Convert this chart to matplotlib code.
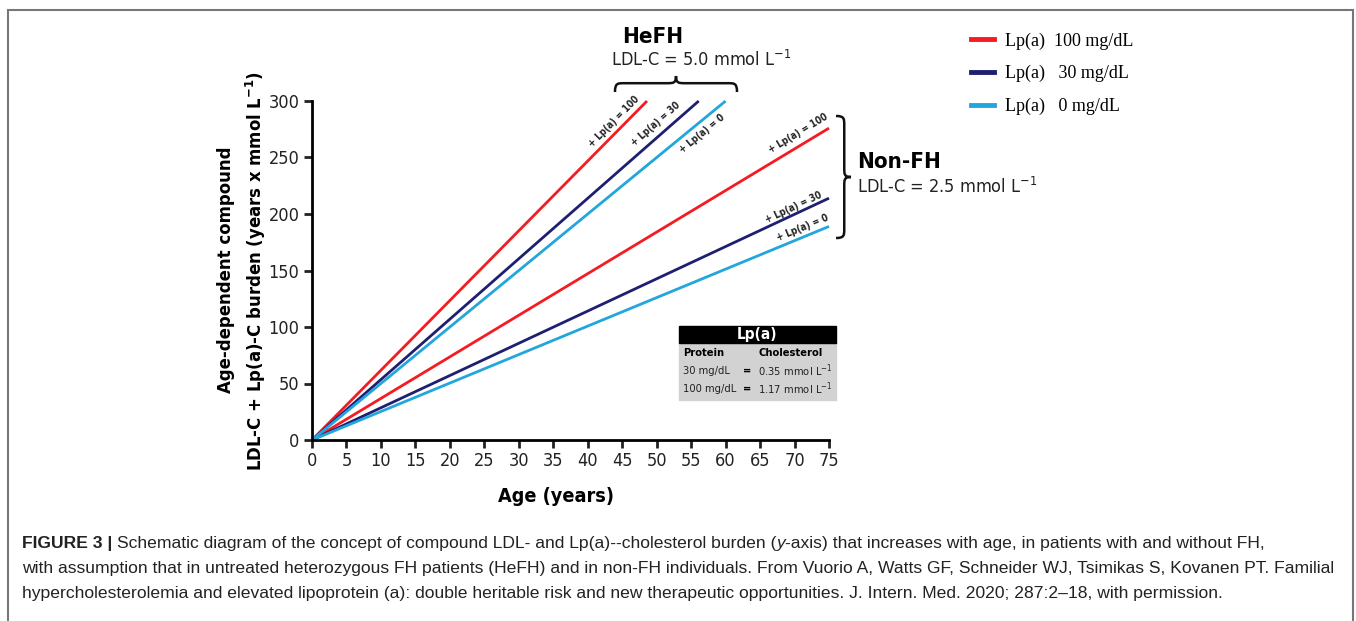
import numpy as np
import matplotlib
matplotlib.use("Agg")
import matplotlib.pyplot as plt
from matplotlib import font_manager as fm
from matplotlib.path import Path
from matplotlib.patches import PathPatch, Rectangle
from matplotlib.lines import Line2D

W, H = 1356, 621

# pick a narrow sans face if one is installed
narrow = [f for f in fm.fontManager.ttflist
          if f.stretch in ('condensed', 'semi-condensed', 'extra-condensed')
          or 'Narrow' in f.name or 'Condensed' in f.name]
if narrow:
    FAM, STR = narrow[0].name, narrow[0].stretch
else:
    FAM, STR = 'Roboto', 'normal'
STR = STR if isinstance(STR, str) else 'normal'

plt.rcParams['font.family'] = [FAM, 'DejaVu Sans']
plt.rcParams['font.stretch'] = STR
plt.rcParams['mathtext.fontset'] = 'custom'
plt.rcParams['mathtext.rm'] = FAM
plt.rcParams['mathtext.bf'] = FAM + ':bold'

# data: each line runs from the origin to its end point
lpa_levels = ['100', '30', '0']
legend_labels = ['Lp(a)  100 mg/dL', 'Lp(a)   30 mg/dL', 'Lp(a)   0 mg/dL']
colors = ['#f41c22', '#1f1f72', '#22a6dc']
hefh_end_age = [48.6, 56.1, 60.0]
hefh_end_val = [300, 300, 300]
nonfh_end_age = [75, 75, 75]
nonfh_end_val = [276, 214, 189]
x_ticks = list(range(0, 80, 5))
y_ticks = list(range(0, 350, 50))

# label centres for the "+ Lp(a) = ..." tags (data coords)
hefh_tag_xy = [(43.8, 282), (49.9, 279.6), (56.6, 270.8)]
nonfh_tag_xy = [(70.5, 271.7), (69.9, 206), (71.1, 187.6)]


def px(x, y):
    return x / W, 1 - y / H


fig = plt.figure(figsize=(W / 100, H / 100), dpi=100)
ax = fig.add_axes([312 / W, 1 - 440 / H, (829 - 312) / W, (440 - 101) / H])

for i in range(3):
    ax.plot([0, hefh_end_age[i]], [0, hefh_end_val[i]], color=colors[i], lw=2, clip_on=False,
            solid_capstyle='butt')
    ax.plot([0, nonfh_end_age[i]], [0, nonfh_end_val[i]], color=colors[i], lw=2, clip_on=False,
            solid_capstyle='butt')

for ends, tags in [((hefh_end_age, hefh_end_val), hefh_tag_xy), ((nonfh_end_age, nonfh_end_val), nonfh_tag_xy)]:
    for i in range(3):
        ang = np.degrees(np.arctan2(ends[1][i], ends[0][i]))
        ax.text(tags[i][0], tags[i][1], '+ Lp(a) = ' + lpa_levels[i], fontsize=7, fontweight='bold',
                rotation=ang, transform_rotates_text=True, rotation_mode='anchor',
                ha='center', va='center', color='#222222')

ax.set_xlim(0, 75)
ax.set_ylim(0, 300)
ax.set_xticks(x_ticks)
ax.set_yticks(y_ticks)
ax.spines[['top', 'right']].set_visible(False)
for s in ['left', 'bottom']:
    ax.spines[s].set_linewidth(2)
ax.tick_params(width=2, length=6, labelsize=13, pad=3, colors='#222222')

fig.canvas.draw()
rend = fig.canvas.get_renderer()


def fit(t, target, vertical=False):
    # scale a text's size so its long side matches the given length
    bb = t.get_window_extent(rend)
    cur = bb.height if vertical else bb.width
    t.set_fontsize(t.get_fontsize() * target / cur)
    return t


yl2 = fig.text(256 / W, 1 - 271 / H, 'LDL-C + Lp(a)-C burden (years x mmol L$^{\\mathbf{-1}}$)', rotation=90,
               fontsize=16, fontweight='bold', ha='center', va='center')
fit(yl2, 400, vertical=True)
lab_size = yl2.get_fontsize()
fig.text(226 / W, 1 - 270 / H, 'Age-dependent compound', rotation=90, fontsize=lab_size,
         fontweight='bold', ha='center', va='center')
fig.text(*px(556, 496), 'Age (years)', fontsize=lab_size + 1, fontweight='bold', ha='center', va='center')


def brace(p0, p1, normal, h, r):
    p0 = np.array(p0, float)
    p1 = np.array(p1, float)
    L = np.linalg.norm(p1 - p0)
    u = (p1 - p0) / L
    n = np.array(normal, float)
    m = L / 2
    f = h * 0.55
    loc = [(0, 0), (0, f), (r * 0.3, f), (r, f), (m - r, f), (m - r * 0.3, f), (m, f), (m, h),
           (m, f), (m + r * 0.3, f), (m + r, f), (L - r, f), (L - r * 0.3, f), (L, f), (L, 0)]
    codes = [Path.MOVETO, Path.CURVE4, Path.CURVE4, Path.CURVE4, Path.LINETO,
             Path.CURVE4, Path.CURVE4, Path.CURVE4, Path.CURVE4, Path.CURVE4, Path.CURVE4,
             Path.LINETO, Path.CURVE4, Path.CURVE4, Path.CURVE4]
    pts = [px(*(p0 + a * u + b * n)) for a, b in loc]
    fig.add_artist(PathPatch(Path(pts, codes), fill=False, lw=1.8, color='#111111',
                             transform=fig.transFigure))


brace((615, 92), (737, 92), (0, -1), 16, 9)
brace((836, 116), (836, 238), (1, 0), 15, 9)

fig.text(*px(622, 37), 'HeFH', fontsize=16, fontweight='bold', va='center')
fig.text(*px(611, 60), 'LDL-C = 5.0 mmol L$^{-1}$', fontsize=13, va='center', color='#222222')
fig.text(*px(857, 162), 'Non-FH', fontsize=16, fontweight='bold', va='center')
fig.text(*px(857, 187), 'LDL-C = 2.5 mmol L$^{-1}$', fontsize=13, va='center', color='#222222')

# Lp(a) conversion box
fig.add_artist(Rectangle(px(679, 400), (836 - 679) / W, (400 - 343) / H, color='#d2d2d2',
                         transform=fig.transFigure))
fig.add_artist(Rectangle(px(679, 343), (836 - 679) / W, (343 - 326) / H, color='black',
                         transform=fig.transFigure))
fig.text(*px(757, 334.5), 'Lp(a)', color='white', fontsize=11, fontweight='bold', ha='center', va='center')
rows = [('30 mg/dL', '0.35 mmol L$^{-1}$'), ('100 mg/dL', '1.17 mmol L$^{-1}$')]
p1 = fit(fig.text(0, 0, rows[0][1], fontsize=11), 74)
p2 = fit(fig.text(0, 0, rows[1][0], fontsize=11), 54)
body = min(p1.get_fontsize(), p2.get_fontsize(), 11)
p1.remove()
p2.remove()
fig.text(*px(683, 353), 'Protein', fontsize=body, fontweight='bold', va='center')
fig.text(*px(758, 353), 'Cholesterol', fontsize=body, fontweight='bold', va='center')
for k, (a, b) in enumerate(rows):
    yy = 371 + 18 * k
    fig.text(*px(683, yy), a, fontsize=body, va='center', color='#222222')
    fig.text(*px(747, yy), '=', fontsize=body, fontweight='bold', va='center', ha='center')
    fig.text(*px(758, yy), b, fontsize=body, va='center', color='#222222')

handles = [Line2D([], [], color=c, lw=3.5) for c in colors]
fig.legend(handles, legend_labels, loc='upper left', bbox_to_anchor=px(955, 16), frameon=False,
           prop={'family': 'Liberation Serif', 'size': 13}, handlelength=1.25, handletextpad=0.6,
           labelspacing=0.85)

# outer frame
fig.add_artist(Rectangle(px(8, 640), (1353 - 8) / W, (640 - 10) / H, fill=False, lw=1.5,
                         edgecolor='#777777', transform=fig.transFigure))

# caption: one common size, set by the widest line
cap_lines = [
    [('FIGURE 3 | ', 'bold', 'normal'),
     ('Schematic diagram of the concept of compound LDL- and Lp(a)--cholesterol burden (', 'normal', 'normal'),
     ('y', 'normal', 'italic'),
     ('-axis) that increases with age, in patients with and without FH,', 'normal', 'normal')],
    [('with assumption that in untreated heterozygous FH patients (HeFH) and in non-FH individuals. '
      'From Vuorio A, Watts GF, Schneider WJ, Tsimikas S, Kovanen PT. Familial', 'normal', 'normal')],
    [('hypercholesterolemia and elevated lipoprotein (a): double heritable risk and new therapeutic '
      'opportunities. J. Intern. Med. 2020; 287:2\u201318, with permission.', 'normal', 'normal')],
]
cap_targets = [1256, 1318, 1264]
drawn = []
scales = []
for line, tgt in zip(cap_lines, cap_targets):
    arts = []
    for s, w, st in line:
        arts.append(fig.text(0, 0, s, fontsize=11.5, fontweight=w, fontstyle=st, va='baseline',
                             family=['Liberation Sans', 'DejaVu Sans'], color='#222222'))
    wsum = sum(a.get_window_extent(rend).width for a in arts)
    scales.append(tgt / wsum)
    drawn.append(arts)
cap_size = 11.5 * min(scales)
for arts, y in zip(drawn, [548, 573, 598]):
    x = 22
    for a in arts:
        a.set_fontsize(cap_size)
        a.set_position(px(x, y))
        x += a.get_window_extent(rend).width

fig.savefig('out.png', dpi=100)
